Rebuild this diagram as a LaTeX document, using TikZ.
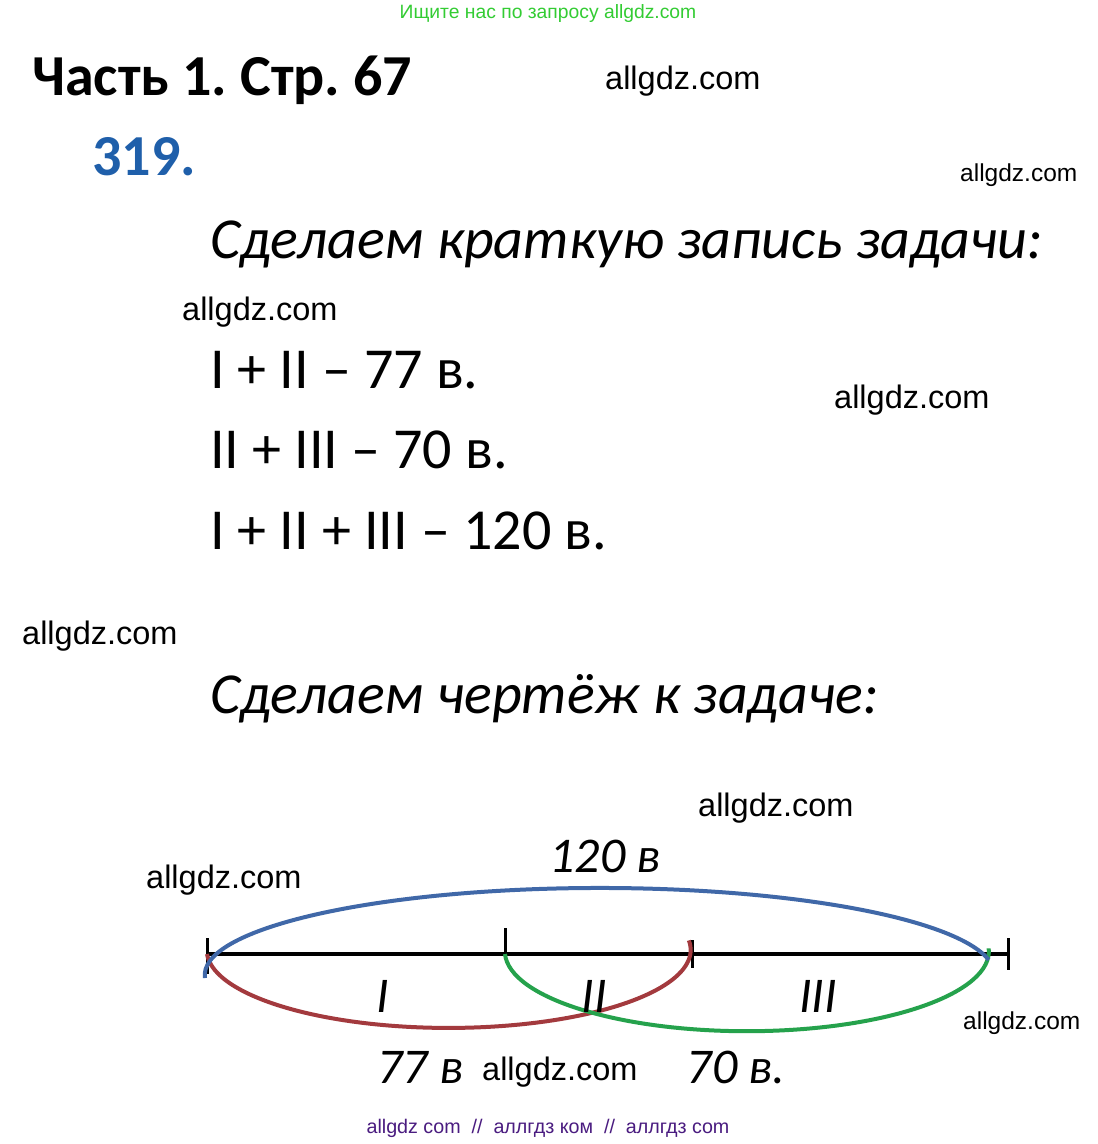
\documentclass[tikz,border=0pt]{standalone}
\usepackage{fontspec}
\setmainfont{Carlito}
\newfontfamily\wmfont{Liberation Sans}
\usepackage{xcolor}
\usetikzlibrary{calc}
\frenchspacing
\definecolor{numblue}{HTML}{1F5FAA}
\definecolor{arcblue}{HTML}{4068A8}
\definecolor{arcred}{HTML}{A33A3E}
\definecolor{arcgreen}{HTML}{25A24C}
\definecolor{topgreen}{HTML}{33CC33}
\definecolor{footviolet}{HTML}{4A1C80}
\tikzset{
  wm/.style={anchor=west,inner sep=0pt,font=\wmfont\fontsize{32.5}{34}\selectfont},
  wmsmall/.style={anchor=west,inner sep=0pt,font=\wmfont\fontsize{24.5}{26}\selectfont},
  bigtext/.style={anchor=base west,inner sep=0pt,font=\fontsize{58}{60}\selectfont},
  headtext/.style={anchor=base west,inner sep=0pt,font=\fontsize{58}{60}\selectfont\itshape},
  parttext/.style={anchor=base,inner sep=0pt,font=\fontsize{50}{52}\selectfont\itshape},
  tickline/.style={line width=3pt},
  arcline/.style={line width=4pt}
}
\begin{document}
\begin{tikzpicture}[x=1pt,y=-1pt]
    \useasboundingbox[fill=white] (0,0) rectangle (1098,1144);
    % header
    \node[anchor=center,inner sep=0pt,text=topgreen,font=\wmfont\fontsize{19.3}{21}\selectfont] (top) at (548,14) {Ищите нас по запросу allgdz.com};
    \node[anchor=base west,inner sep=0pt,font=\fontsize{58}{60}\selectfont\bfseries] (part) at (32,95) {Часть 1. Стр. 67};
    \node[anchor=base west,inner sep=0pt,text=numblue,font=\fontsize{58}{60}\selectfont\bfseries] (num) at (92,175) {319.};
    % short record
    \node[headtext] (rec) at (210,258) {Сделаем краткую запись задачи:};
    \node[bigtext] (l1) at (210,388) {I + II -- 77 в.};
    \node[bigtext] (l2) at (210,468) {II + III -- 70 в.};
    \node[bigtext] (l3) at (210,549) {I + II + III -- 120 в.};
    \node[headtext] (drw) at (210,713) {Сделаем чертёж к задаче:};
    % segment
    \coordinate (A) at (207,954);
    \coordinate (B) at (505,954);
    \coordinate (C) at (692,954);
    \coordinate (D) at (1008,954);
    \draw[line width=4pt] (A) -- (D);
    \draw[tickline] ($(A)+(0,-16)$) -- ($(A)+(0,20)$);
    \draw[tickline] ($(B)+(0,-26)$) -- ($(B)+(0,2)$);
    \draw[tickline] ($(C)+(0,-14)$) -- ($(C)+(0,14)$);
    \draw[tickline] ($(D)+(0,-16)$) -- ($(D)+(0,16)$);
    % arcs
    \draw[arcline,arcred] (A) arc[start angle=177,end angle=-7,x radius=242,y radius=78];
    \draw[arcline,arcgreen] (B) arc[start angle=178,end angle=-2,x radius=242,y radius=80];
    \draw[arcline,arcblue] ($(A)+(-2,24)$) arc[start angle=178,end angle=350,x radius=395,y radius=87];
    \node[parttext] (p1) at (383,1012) {I};
    \node[parttext] (p2) at (594,1012) {II};
    \node[parttext] (p3) at (818,1012) {III};
    \node[parttext] (sum) at (605,872) {120 в};
    \node[parttext] (s12) at (420,1083) {77 в};
    \node[parttext] (s23) at (736,1083) {70 в.};
    % watermarks
    \node[wm] (w1) at (605,81) {allgdz.com};
    \node[wmsmall] (w2) at (960,175) {allgdz.com};
    \node[wm] (w3) at (182,312) {allgdz.com};
    \node[wm] (w4) at (834,400) {allgdz.com};
    \node[wm] (w5) at (22,636) {allgdz.com};
    \node[wm] (w6) at (698,808) {allgdz.com};
    \node[wm] (w7) at (146,880) {allgdz.com};
    \node[wmsmall] (w8) at (963,1023) {allgdz.com};
    \node[wm] (w9) at (482,1072) {allgdz.com};
    \node[anchor=center,inner sep=0pt,text=footviolet,font=\wmfont\fontsize{19.7}{21}\selectfont] (foot) at (548,1128) {allgdz com~~//~~аллгдз ком~~//~~аллгдз com};
\end{tikzpicture}
\end{document}
